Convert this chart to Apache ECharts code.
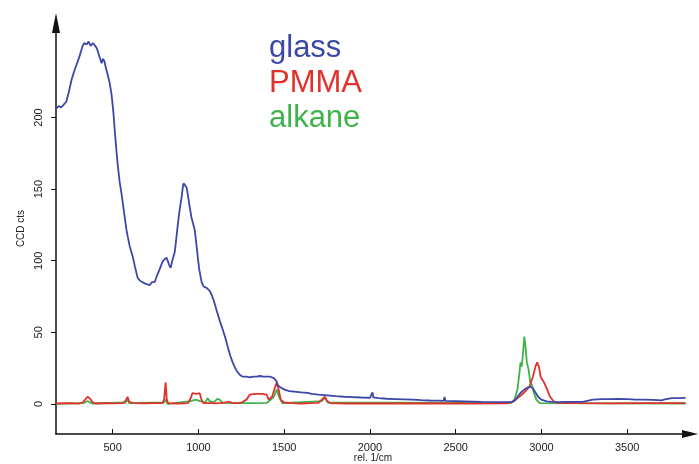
<!DOCTYPE html>
<html>
<head>
<meta charset="utf-8">
<script src="https://cdn.jsdelivr.net/npm/echarts@6/dist/echarts.min.js"></script>
<style>
html,body{margin:0;padding:0;background:#fff;}
#chart{width:699px;height:464px;}
</style>
</head>
<body>
<div id="chart"></div>
<script>
// Raman spectra: [wavenumber (rel. 1/cm), CCD cts]
var glass = [
[170,206],[185,208],[200,207],[215,209],[230,211],[245,218],[260,226],[275,232],[290,237],[305,242],
[315,246],[325,250],[335,252],[348,251],[360,253],[372,250],[385,252],[395,253],[405,249],[412,247],
[422,243],[436,238],[445,241],[453,239],[462,234],[471,230],[483,224],[494,216],[505,203],[512,192],
[520,180],[529,168],[541,155],[553,146],[562,138],[570,131],[580,122],[588,117],[600,110],[617,103],
[630,96],[646,88],[660,86],[675,85],[690,84],[700,85],[716,83],[730,85],[745,85],[760,90],
[774,94],[790,99],[803,101],[815,102],[821,101],[830,97],[838,95],[850,101],[862,106],[870,114],
[879,124],[890,135],[903,145],[910,152],[914,154],[920,153],[932,151],[940,145],[949,138],[960,130],
[978,122],[990,110],[996,103],[1005,94],[1019,85],[1030,82],[1048,81],[1066,79],[1078,76],[1090,72],
[1107,65],[1125,58],[1142,52],[1160,45],[1171,40],[1185,34],[1200,29],[1215,25],[1229,22],[1245,20],
[1258,19],[1280,19],[1300,18.5],[1320,19],[1340,19],[1360,19.5],[1380,19],[1398,19],[1420,19],[1440,18],
[1455,16],[1463,13],[1480,11.5],[1503,10],[1530,9],[1573,8.4],[1600,8],[1638,7.7],[1660,7],[1700,6.5],
[1750,6],[1800,5.4],[1850,5],[1900,4.8],[1950,4.5],[2000,4.3],[2010,4.6],[2015,8],[2020,4.5],[2050,4],
[2100,3.6],[2150,3.4],[2200,3.2],[2250,3],[2300,2.6],[2350,2.4],[2400,2.3],[2430,2.2],[2435,4.8],[2440,2.2],
[2500,2],[2550,1.8],[2600,1.6],[2650,1.4],[2700,1.3],[2750,1.2],[2800,1.2],[2830,1.5],[2850,3],[2860,5],
[2880,8],[2900,10],[2920,11.5],[2935,12],[2950,11],[2965,8],[2980,5],[3000,3],[3030,1.8],[3060,1.4],
[3100,1.3],[3150,1.4],[3200,1.5],[3240,1.4],[3250,2.6],[3300,3],[3350,3.4],[3400,3.3],[3450,3.5],[3500,3.4],
[3550,3],[3600,3],[3650,2.8],[3700,2.5],[3720,3.2],[3760,4],[3800,4],[3840,4.2]
];
var pmma = [
[170,0.3],[250,0.5],[300,0.2],[325,1],[340,3],[354,5],[370,3.5],[384,1],[400,0.3],[450,0.6],
[500,0.4],[560,0.5],[575,2],[587,5],[597,1.5],[620,0.5],[680,0.4],[740,0.6],[790,0.5],[800,3],
[809,15],[816,3],[825,0.4],[880,0.3],[940,0.6],[955,4],[965,7.5],[990,7],[1008,7.5],[1018,3],
[1030,0.5],[1080,0.6],[1100,0.4],[1150,0.8],[1180,1.5],[1200,0.6],[1250,0.8],[1280,3],[1300,6.5],[1330,7],
[1370,7],[1398,6.5],[1410,3],[1430,5],[1445,11],[1457,15],[1468,10],[1480,3],[1500,1],[1550,0.5],
[1600,0.3],[1650,0.6],[1700,0.8],[1720,3],[1737,5],[1750,2],[1770,0.5],[1850,0.3],[2000,0.4],[2200,0.3],
[2400,0.4],[2600,0.3],[2800,0.4],[2840,2],[2870,5],[2900,8],[2930,12],[2950,19],[2965,26],[2975,29],
[2985,26],[2995,19],[3015,15],[3030,11],[3050,5],[3070,2],[3090,0.7],[3200,0.5],[3400,0.4],[3600,0.5],
[3840,0.5]
];
var alkane = [
[170,0],[330,0.5],[354,2],[380,0.3],[575,1],[587,3],[597,0.5],[800,1],[809,3],[820,0],
[955,2],[985,3],[1010,2],[1040,1],[1054,4],[1065,2],[1090,1],[1110,3.5],[1124,3],[1140,1],
[1200,0.5],[1300,0.5],[1400,0.8],[1440,5],[1457,10],[1470,5],[1490,0.5],[1720,2],[1737,4.5],[1755,1],
[2820,0.5],[2840,2],[2860,10],[2870,20],[2878,29],[2885,26],[2893,36],[2900,47],[2907,40],[2915,29],
[2925,24],[2935,15],[2945,13],[2955,8],[2970,3],[2990,0.5],[3840,0.3]
];
var xTicks = [500,1000,1500,2000,2500,3000,3500];
var yTicks = [0,50,100,150,200];
var seriesNames = ['glass','PMMA','alkane'];
var seriesColors = ['#3c47a8','#e0322a','#3fb24a'];

var chart = echarts.init(document.getElementById('chart'));
var axisTextColor = '#222';
chart.setOption({
  animation:false,
  backgroundColor:'#fff',
  textStyle:{fontFamily:'Liberation Sans, Arial, sans-serif'},
  grid:{left:56,right:9,top:23,bottom:30,containLabel:false,outerBoundsMode:'none'},
  legend:{
    orient:'vertical',left:264,top:31,padding:0,itemGap:0,
    itemWidth:0,itemHeight:0,icon:'rect',selectedMode:false,
    textStyle:{fontSize:31,lineHeight:35,fontFamily:'Liberation Sans, Arial, sans-serif'},
    data:seriesNames.map(function(n,i){return {name:n,textStyle:{color:seriesColors[i]}};})
  },
  xAxis:{
    type:'value',min:170,max:3866,
    name:'rel. 1/cm',nameLocation:'middle',nameGap:19,nameMoveOverlap:false,
    nameTextStyle:{fontSize:10,color:axisTextColor},
    splitLine:{show:false},
    axisLine:{show:true,onZero:false,symbol:['none','triangle'],symbolSize:[8,16],lineStyle:{color:'#111',width:1.5}},
    axisTick:{show:true,inside:true,length:5,customValues:xTicks,lineStyle:{color:'#111'}},
    axisLabel:{customValues:xTicks,fontSize:11,color:axisTextColor,margin:8,formatter:function(v){return String(v);}}
  },
  yAxis:{
    type:'value',min:-21,max:266,
    name:'CCD cts',nameLocation:'middle',nameGap:30,nameRotate:90,nameMoveOverlap:false,
    nameTextStyle:{fontSize:10,color:axisTextColor},
    splitLine:{show:false},
    axisLine:{show:true,onZero:false,symbol:['none','triangle'],symbolSize:[8,20],lineStyle:{color:'#111',width:1.5}},
    axisTick:{show:true,length:5,customValues:yTicks,lineStyle:{color:'#111'}},
    axisLabel:{customValues:yTicks,fontSize:11,color:axisTextColor,rotate:90,margin:12,formatter:function(v){return String(v);}}
  },
  series:[
    {name:'alkane',type:'line',data:alkane,showSymbol:false,lineStyle:{width:1.8,color:seriesColors[2]},itemStyle:{color:seriesColors[2]},z:2},
    {name:'PMMA',type:'line',data:pmma,showSymbol:false,lineStyle:{width:1.8,color:seriesColors[1]},itemStyle:{color:seriesColors[1]},z:3},
    {name:'glass',type:'line',data:glass,showSymbol:false,lineStyle:{width:1.8,color:seriesColors[0]},itemStyle:{color:seriesColors[0]},z:4}
  ]
});
</script>
</body>
</html>
